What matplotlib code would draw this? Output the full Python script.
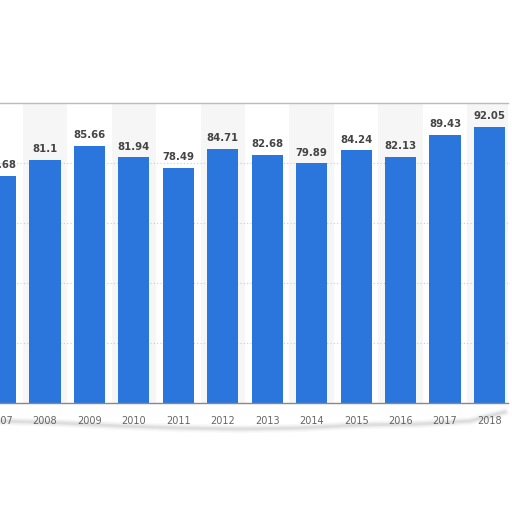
import numpy as np
import matplotlib.pyplot as plt

# DATA

years = [2007, 2008, 2009, 2010, 2011, 2012, 2013, 2014, 2015, 2016, 2017, 2018]
values = [75.68, 81.1, 85.66, 81.94, 78.49, 84.71, 82.68, 79.89, 84.24, 82.13, 89.43, 92.05]
value_labels = ["75.68", "81.1", "85.66", "81.94", "78.49", "84.71",
                "82.68", "79.89", "84.24", "82.13", "89.43", "92.05"]

BAR_COLOR = "#2a76dc"
BAND_COLOR = "#f6f6f6"
LABEL_COLOR = "#444444"
TICK_COLOR = "#666666"

# PLOT

fig = plt.figure(figsize=(5.12, 5.12), dpi=100)
ax = fig.add_axes([0.0, 109 / 512, 508 / 512, 300 / 512])

# alternating column shading behind even years
for y in years:
    if y % 2 == 0:
        ax.axvspan(y - 0.5, y + 0.5, color=BAND_COLOR, zorder=0, lw=0)

ax.bar(years, values, width=0.7, color=BAR_COLOR, zorder=2)

for x, v, s in zip(years, values, value_labels):
    ax.annotate(s, (x, v), xytext=(0, 4), textcoords="offset points",
                ha="center", va="bottom", fontsize=7.3, fontweight="bold",
                color=LABEL_COLOR, zorder=3)

ax.set_ylim(0, 100)
ax.set_xlim(2007 - 0.55 / 44.45, 2018 + 18.5 / 44.45)
ax.set_yticks([20, 40, 60, 80])
ax.yaxis.grid(True, linestyle=(0, (1, 2)), color="#cccccc", linewidth=0.8, zorder=1)
ax.set_axisbelow(True)
ax.tick_params(axis="y", left=False, labelleft=False)

ax.set_xticks(years)
ax.set_xticklabels([str(y) for y in years], fontsize=7, color=TICK_COLOR)
ax.tick_params(axis="x", length=0, pad=9)

for side in ["left", "right"]:
    ax.spines[side].set_visible(False)
ax.spines["top"].set_color("#bbbbbb")
ax.spines["top"].set_linewidth(1.0)
ax.spines["bottom"].set_color("#888888")
ax.spines["bottom"].set_linewidth(1.0)

# soft shadow of the torn edge under the year labels
sx = np.array([0, 60, 120, 180, 240, 300, 360, 420, 470, 505]) / 512
sy = 1 - np.array([421, 423, 426, 428, 429, 428, 425, 424, 421, 412]) / 512
for lw, a in [(6, 0.04), (4, 0.06), (2, 0.10)]:
    fig.add_artist(plt.Line2D(sx, sy, color="#555555", lw=lw, alpha=a,
                              solid_capstyle="round"))

fig.savefig("out.png", dpi=100)
